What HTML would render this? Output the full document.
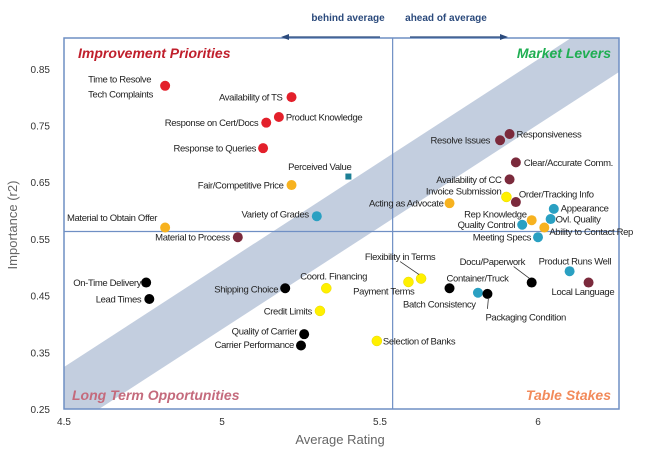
<!DOCTYPE html>
<html><head><meta charset="utf-8"><style>
html,body{margin:0;padding:0;background:#fff;}
svg{display:block;font-family:"Liberation Sans",Arial,sans-serif;}
.lbl{font-size:9.5px;fill:#222;letter-spacing:-0.35px;}
.tick{font-size:10px;fill:#333;}
</style></head><body>
<svg id="chart" width="649" height="465" viewBox="0 0 649 465">
<g id="bg"></g>
<g id="marks"></g>
</svg>
<script>
const names=["Time to Resolve|Tech Complaints","Availability of TS","Product Knowledge","Response on Cert/Docs","Response to Queries","Perceived Value","Fair/Competitive Price","Variety of Grades","Material to Obtain Offer","Material to Process","Resolve Issues","Responsiveness","Clear/Accurate Comm.","Availability of CC","Invoice Submission","Order/Tracking Info","Acting as Advocate","Appearance","Ovl. Quality","Rep Knowledge","Quality Control","Ability to Contact Rep","Meeting Specs","Flexibility in Terms","Payment Terms","Coord. Financing","Shipping Choice","On-Time Delivery","Lead Times","Credit Limits","Quality of Carrier","Carrier Performance","Selection of Banks","Container/Truck","Docu/Paperwork","Product Runs Well","Local Language","Batch Consistency","Packaging Condition"];
const ratings=[4.82,5.22,5.18,5.14,5.13,5.40,5.22,5.30,4.82,5.05,5.88,5.91,5.93,5.91,5.90,5.93,5.72,6.05,6.04,5.98,5.95,6.02,6.00,5.63,5.59,5.33,5.20,4.76,4.77,5.31,5.26,5.25,5.49,5.72,5.98,6.10,6.16,5.81,5.84];
const importance=[0.82,0.80,0.765,0.755,0.71,0.66,0.645,0.59,0.57,0.553,0.724,0.735,0.685,0.655,0.624,0.615,0.613,0.603,0.585,0.583,0.575,0.57,0.553,0.48,0.474,0.463,0.463,0.473,0.444,0.423,0.382,0.362,0.37,0.463,0.473,0.493,0.473,0.455,0.453];
const groups=["red","red","red","red","red","teal-sq","orange","teal","orange","maroon","maroon","maroon","maroon","maroon","yellow","maroon","orange","teal","teal","orange","teal","orange","teal","yellow","yellow","yellow","black","black","black","yellow","black","black","yellow","black","black","teal","maroon","teal","black"];
const xTicks=[4.5,5,5.5,6];
const yTicks=[0.25,0.35,0.45,0.55,0.65,0.75,0.85];
const avgRating=5.54, avgImportance=0.563;
// label layout relative to point: dx, dy, anchor, leader
const layout=[[-77,-7,"start"],[-9,0,"end"],[7,0,"start"],[-8,0,"end"],[-7,0,"end"],[3,-10,"end"],[-8,0,"end"],[-8,-2,"end"],[-8,-10,"end"],[-8,0,"end"],[-10,0,"end"],[7,0,"start"],[8,0,"start"],[-8,0,"end"],[-5,-6,"end"],[3,-8,"start"],[-6,0,"end"],[7,-1,"start"],[5,0,"start"],[-5,-6,"end"],[-7,0,"end"],[5,4,"start"],[-7,0,"end"],[-21,-22,"middle",1],[6,9,"end"],[-26,-12,"start"],[-7,1,"end"],[-5,0,"end"],[-8,0,"end"],[-8,0,"end"],[-7,-3,"end"],[-7,-1,"end"],[6,0,"start"],[-3,-10,"start"],[-72,-21,"start",1],[-31,-10,"start"],[-37,9,"start"],[-75,11,"start"],[-2,23,"start",1]];
const colors={red:"#e3202b",maroon:"#7b2a3c",orange:"#f7b21f",yellow:"#fff000",teal:"#2aa0c2","teal-sq":"#1c7f95",black:"#000"};
const X0=64,XS=316,Y0=409,YS=567;
const sx=v=>X0+(v-4.5)*XS, sy=v=>Y0-(v-0.25)*YS;
const L=64,R=619,T=38,B=409;
const NS="http://www.w3.org/2000/svg";
function mk(t,a,p){const e=document.createElementNS(NS,t);for(const k in a)e.setAttribute(k,a[k]);p.appendChild(e);return e;}
const bg=document.getElementById('bg'),mg=document.getElementById('marks');
// band
const band=mk('polygon',{points:`${L},367 ${L},${B} 99,${B} ${R},72 ${R},${T} 571,${T}`,fill:"#c3cedf"},bg);


const fr=mk('rect',{x:L,y:T,width:R-L,height:B-T,fill:"none",stroke:"#6f8fc4","stroke-width":1.5},bg);


const vl=mk('line',{x1:sx(avgRating),x2:sx(avgRating),y1:T,y2:B,stroke:"#6f8fc4","stroke-width":1.2},bg);


const hl=mk('line',{x1:L,x2:R,y1:sy(avgImportance),y2:sy(avgImportance),stroke:"#6f8fc4","stroke-width":1.2},bg);


xTicks.forEach(v=>{const t=mk('text',{x:sx(v),y:B+16,"text-anchor":"middle",class:"tick"},bg);t.textContent=v;

});
yTicks.forEach(v=>{const t=mk('text',{x:50,y:sy(v)+4,"text-anchor":"end",class:"tick"},bg);t.textContent=v.toFixed(2);

});
function txt(s,a,name){const t=mk('text',a,bg);t.textContent=s;return t;}
txt("Average Rating",{x:340,y:444,"text-anchor":"middle","font-size":13,fill:"#666"},"x-axis-title");
txt("Importance (r2)",{x:0,y:0,"text-anchor":"middle","font-size":13,fill:"#666",transform:"translate(17,225) rotate(-90)"},"y-axis-title");
txt("Improvement Priorities",{x:78,y:58,"font-size":14,"font-weight":"bold","font-style":"italic",fill:"#c01f2c"},"quadrant-improvement-priorities");
txt("Market Levers",{x:611,y:58,"text-anchor":"end","font-size":14,"font-weight":"bold","font-style":"italic",fill:"#1fae52"},"quadrant-market-levers");
txt("Long Term Opportunities",{x:72,y:400,"font-size":14,"font-weight":"bold","font-style":"italic",fill:"#c46a7c"},"quadrant-long-term-opportunities");
txt("Table Stakes",{x:611,y:400,"text-anchor":"end","font-size":14,"font-weight":"bold","font-style":"italic",fill:"#f28a5a"},"quadrant-table-stakes");
txt("behind average",{x:348,y:21,"text-anchor":"middle","font-size":10,"font-weight":"bold",fill:"#2b4a7c"},"behind-average-label");
txt("ahead of average",{x:446,y:21,"text-anchor":"middle","font-size":10,"font-weight":"bold",fill:"#2b4a7c"},"ahead-average-label");
mk('line',{x1:380,y1:37,x2:286,y2:37,stroke:"#2b4a7c","stroke-width":1.2},bg);
mk('polygon',{points:"281,37 289,34 289,40",fill:"#2b4a7c"},bg);
mk('line',{x1:410,y1:37,x2:503,y2:37,stroke:"#2b4a7c","stroke-width":1.2},bg);
mk('polygon',{points:"508,37 500,34 500,40",fill:"#2b4a7c"},bg);
names.forEach((n,i)=>{
  const cx=sx(ratings[i]),cy=sy(importance[i]),c=colors[groups[i]];
  let m;
  if(groups[i]==="teal-sq") m=mk('rect',{x:cx-3,y:cy-3,width:6,height:6,fill:c},mg);
  else m=mk('circle',{cx:cx,cy:cy,r:5,fill:c,stroke:groups[i]==="yellow"?"#e8d800":"none","stroke-width":0.5},mg);
  
  
  const [dx,dy,anc,lead]=layout[i];
  const parts=n.split('|');
  parts.forEach((p,k)=>{
    const t=mk('text',{x:cx+dx,y:cy+dy+3.5+k*15,"text-anchor":anc,class:"lbl"},mg);
    t.textContent=p;
    
    
  });
  if(lead){
    let x1=cx+dx+(anc==="start"?54:0),y1=cy+dy+5;
    if(dy>0){x1=cx+dx+2;y1=cy+dy-8;}
    const ln=mk('line',{x1:x1,y1:y1,x2:cx-(dy>0?-1:2),y2:cy+(dy>0?4:-4),stroke:"#333","stroke-width":0.8},mg);
    
    
  }
});
</script>
</body></html>
